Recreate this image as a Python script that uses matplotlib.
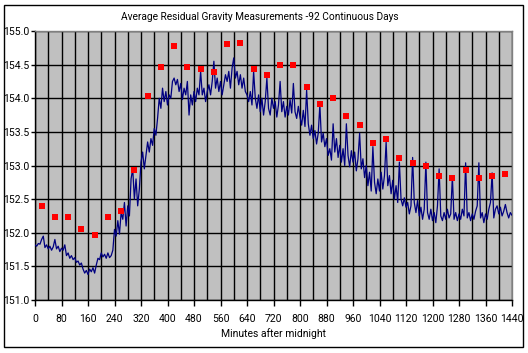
import matplotlib
matplotlib.use("Agg")
import matplotlib.pyplot as plt
from matplotlib.patches import Rectangle
from matplotlib.ticker import MultipleLocator, FormatStrFormatter

# ---------------- data ----------------
title = "Average Residual Gravity Measurements -92 Continuous Days"
xlabel = "Minutes after midnight"

# red markers: every 40 minutes starting at 20
marker_minutes = list(range(20, 1440, 40))
marker_values = [152.40, 152.24, 152.24, 152.05, 151.97, 152.24, 152.33, 152.93,
                 154.03, 154.47, 154.77, 154.46, 154.43, 154.39, 154.80, 154.82,
                 154.43, 154.34, 154.49, 154.49, 154.16, 153.92, 154.00, 153.74,
                 153.60, 153.33, 153.39, 153.11, 153.03, 153.00, 152.85, 152.81,
                 152.93, 152.82, 152.84, 152.88]

# navy line: sampled every 5 minutes (0..1440)
line_step = 5
seg_a = [151.82, 151.80, 151.84, 151.83, 151.90, 151.95, 151.78, 151.82, 151.76, 151.80,
         151.74, 151.79, 151.90, 151.76, 151.80, 151.72, 151.77, 151.74, 151.82, 151.66,
         151.70, 151.62, 151.66, 151.60, 151.63, 151.56, 151.58, 151.52, 151.55, 151.46,
         151.40, 151.44, 151.38, 151.46, 151.42, 151.48, 151.40, 151.52, 151.62, 151.60,
         151.70, 151.64, 151.68, 151.62, 151.70, 151.63, 151.66, 151.74]
seg_b = [152.05, 151.95, 152.18, 151.98, 152.30, 152.20, 152.45, 152.10, 152.40, 152.25,
         152.80, 152.95, 152.50, 152.80, 152.40, 152.65, 153.05, 153.20, 152.95, 153.15,
         153.35, 153.20, 153.40, 153.30, 153.55, 153.45, 153.70, 154.00, 153.85, 154.15,
         153.95, 154.10, 153.90, 154.05, 154.00, 154.25, 154.30, 154.20, 154.28, 154.10,
         154.22, 153.98, 154.15, 154.05, 154.25, 153.75, 154.05, 153.90]
seg_c = [154.10, 153.95, 154.15, 154.05, 154.40, 154.05, 154.15, 153.95, 154.10, 154.20,
         154.05, 154.25, 154.55, 154.15, 154.30, 154.10, 154.25, 154.05, 154.20, 154.35,
         154.25, 154.40, 154.15, 154.45, 154.60, 154.30, 154.40, 154.20, 154.35, 154.15,
         154.30, 154.10, 154.05, 153.95, 154.10, 153.90, 154.40, 154.00, 153.85, 154.05,
         153.80, 154.00, 153.75, 153.95, 154.30, 153.85, 153.75, 154.00]
seg_d = [153.85, 153.95, 153.72, 153.90, 154.25, 153.80, 153.95, 153.72, 153.88, 153.75,
         153.98, 153.78, 154.22, 153.80, 153.70, 153.88, 153.72, 153.60, 153.82, 153.58,
         154.12, 153.62, 153.45, 153.60, 153.40, 153.52, 153.32, 153.48, 153.90, 153.35,
         153.48, 153.28, 153.40, 153.15, 153.25, 153.08, 153.62, 153.20, 153.40, 153.12,
         153.30, 153.05, 153.25, 153.00, 153.62, 153.15, 152.98, 153.22]
seg_e = [153.05, 153.20, 152.92, 153.10, 153.48, 152.95, 153.10, 152.82, 153.00, 152.70,
         152.90, 152.62, 153.28, 152.75, 152.58, 152.80, 152.62, 152.90, 152.65, 152.85,
         153.35, 152.70, 152.85, 152.58, 152.78, 152.50, 152.70, 152.45, 153.05, 152.50,
         152.40, 152.52, 152.38, 152.45, 152.28, 152.40, 153.12, 152.45, 152.30, 152.48,
         152.25, 152.38, 152.20, 152.35, 153.05, 152.30, 152.20, 152.35]
seg_f = [152.18, 152.30, 152.15, 152.40, 152.95, 152.25, 152.18, 152.30, 152.20, 152.35,
         152.22, 152.28, 152.84, 152.20, 152.30, 152.18, 152.28, 152.20, 152.35, 152.25,
         153.04, 152.22, 152.30, 152.18, 152.28, 152.20, 152.32, 152.40, 153.04, 152.22,
         152.30, 152.15, 152.28, 152.20, 152.35, 152.45, 152.89, 152.22, 152.35, 152.40,
         152.28, 152.38, 152.25, 152.32, 152.42, 152.30, 152.22, 152.30, 152.26]

line_values = seg_a + seg_b + seg_c + seg_d + seg_e + seg_f
line_minutes = [i * line_step for i in range(len(line_values))]

# ---------------- fonts ----------------
plt.rcParams['font.family'] = ['Roboto', 'DejaVu Sans']

# ---------------- figure ----------------
W, H = 528, 353
fig = plt.figure(figsize=(W / 100, H / 100), dpi=100)
fig.patch.set_facecolor("white")

# outer chart border
fig.patches.append(Rectangle((4 / W, 1 - 347 / H), (523 - 4) / W, (347 - 5) / H,
                             transform=fig.transFigure, fill=False,
                             edgecolor="black", linewidth=1.0))

L, R, T, B = 35, 512, 31, 300
ax = fig.add_axes([L / W, 1 - B / H, (R - L) / W, (B - T) / H])
ax.set_facecolor("#C0C0C0")

ax.set_xlim(0, 1440)
ax.set_ylim(151.0, 155.0)
ax.xaxis.set_major_locator(MultipleLocator(80))
ax.xaxis.set_minor_locator(MultipleLocator(40))
ax.yaxis.set_major_locator(MultipleLocator(0.5))
ax.yaxis.set_major_formatter(FormatStrFormatter("%.1f"))

ax.grid(True, which="both", axis="x", color="black", linewidth=1.0)
ax.grid(True, which="major", axis="y", color="black", linewidth=1.0)
ax.set_axisbelow(True)

ax.tick_params(axis="x", which="major", direction="out", length=4, width=1,
               labelsize=7.5, pad=6, colors="black")
ax.tick_params(axis="x", which="minor", length=0)
ax.tick_params(axis="y", which="major", direction="out", length=3, width=1,
               labelsize=7.5, pad=1, colors="black")

for s in ("top", "right"):
    ax.spines[s].set_color("#808080")
    ax.spines[s].set_linewidth(1.0)
for s in ("left", "bottom"):
    ax.spines[s].set_color("black")
    ax.spines[s].set_linewidth(1.0)

ax.plot(line_minutes, line_values, color="#000080", linewidth=0.9, zorder=3)
ax.plot(marker_minutes, marker_values, linestyle="none", marker="s",
        markersize=4.6, markerfacecolor="#FF0000", markeredgewidth=0, zorder=4)

fig.text(260 / W, 1 - 17 / H, title, ha="center", va="center", fontsize=7.3)
fig.text((L + R) / 2 / W, 1 - 334 / H, xlabel, ha="center", va="center", fontsize=7.5)

fig.savefig("out.png", dpi=100)
